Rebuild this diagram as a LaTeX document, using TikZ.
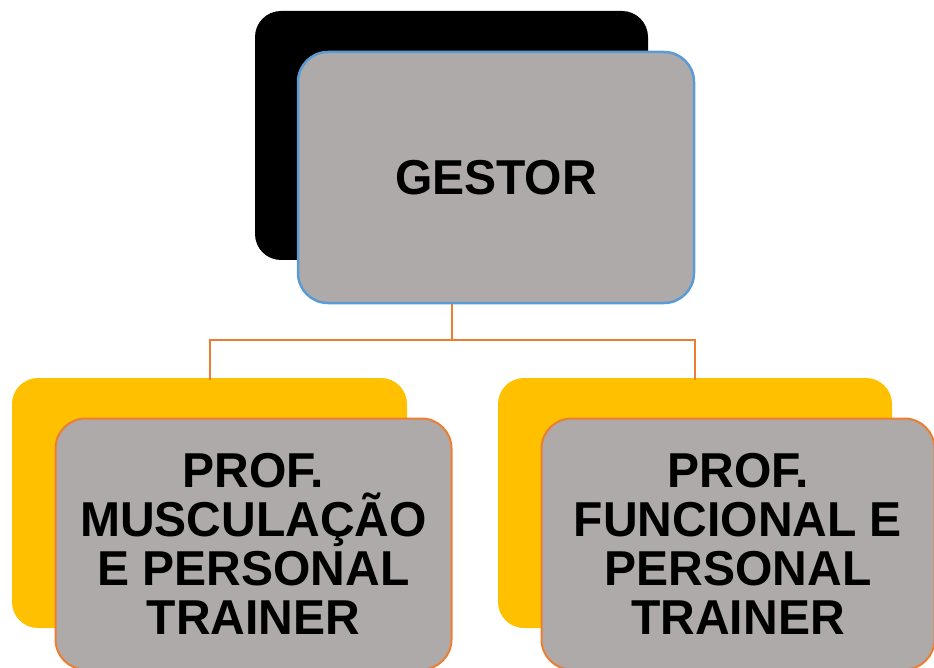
\documentclass[tikz,border=0pt]{standalone}
\usepackage{fontspec}
\newfontfamily\boxfont[FakeStretch=0.98]{Liberation Sans}
\definecolor{boxgrey}{HTML}{AEAAAA}
\definecolor{boxyellow}{HTML}{FFC000}
\definecolor{boxblue}{HTML}{5B9BD5}
\definecolor{boxorange}{HTML}{ED7D31}
\tikzset{
  back/.style={rounded corners=26pt, inner sep=0pt},
  front/.style={rounded corners=30pt, fill=boxgrey, inner sep=0pt, align=center,
    font=\boxfont\bfseries\fontsize{49}{49}\selectfont},
  conn/.style={draw=boxorange, line width=2pt},
}
\begin{document}
\begin{tikzpicture}[x=1pt,y=-1pt]
\useasboundingbox (0,0) rectangle (934,668);
% back boxes
\node[back, fill=black, minimum width=393pt, minimum height=249pt] (black) at (451.5,135.5) {};
\node[back, fill=boxyellow, minimum width=395pt, minimum height=250pt] (yl) at (209.5,503) {};
\node[back, fill=boxyellow, minimum width=394pt, minimum height=250pt] (yr) at (695,503) {};
% connectors
\coordinate (j) at (451.5,340);
\draw[conn] (black.south |- 0,300) -- (j);
\draw[conn] ([yshift=-2pt]yl.north) |- (j) -| ([yshift=-2pt]yr.north);
% front boxes
\node[front, draw=boxblue, line width=2.5pt, minimum width=396pt, minimum height=251pt] (gestor) at (496,177.5) {GESTOR};
\node[front, draw=boxorange, line width=2pt, minimum width=396pt, minimum height=251pt] (left) at (253.5,544) {PROF.\\MUSCULAÇÃO\\E PERSONAL\\TRAINER};
\node[front, draw=boxorange, line width=2pt, minimum width=393pt, minimum height=251pt] (right) at (738,544) {PROF.\\FUNCIONAL E\\PERSONAL\\TRAINER};
\end{tikzpicture}
\end{document}
